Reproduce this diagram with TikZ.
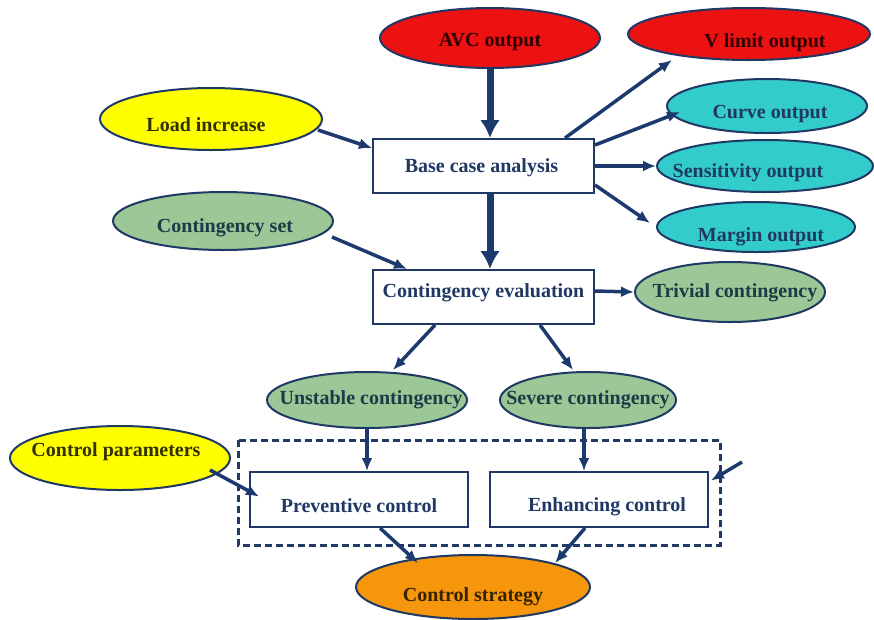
\documentclass[tikz,border=0pt]{standalone}
\usepackage{fontspec}
\setmainfont{Liberation Serif}
\usetikzlibrary{shapes.geometric,arrows.meta}
\definecolor{navy}{RGB}{31,56,100}
\definecolor{arrowblue}{RGB}{28,58,110}
\definecolor{ovalred}{RGB}{236,18,18}
\definecolor{ovalyellow}{RGB}{255,255,0}
\definecolor{ovalcyan}{RGB}{51,204,204}
\definecolor{ovalgreen}{RGB}{155,200,150}
\definecolor{ovalorange}{RGB}{245,150,12}
\definecolor{darkred}{RGB}{50,0,0}
\definecolor{darkolive}{RGB}{50,50,0}
\definecolor{darkteal}{RGB}{25,60,70}
\definecolor{darkbrown}{RGB}{55,35,0}
\begin{document}
\begin{tikzpicture}[x=1pt,y=-1pt,>={Latex[length=13pt,width=11pt]},
    every node/.style={font=\bfseries\fontsize{20}{22}\selectfont},
    oval/.style={ellipse,draw=navy,line width=2pt,inner sep=0pt},
    box/.style={rectangle,draw=navy,line width=2pt,fill=white,inner sep=0pt},
    flow/.style={->,draw=arrowblue,line width=3.5pt},
    mainflow/.style={-{Latex[length=18pt,width=20pt]},draw=arrowblue,line width=7pt}]
		\useasboundingbox (0,0) rectangle (874,619);
		% outputs on top and right
		\node[oval,fill=ovalred,minimum width=220,minimum height=60,label={[text=darkred,shift={(0,4)}]center:AVC output}] (avc) at (490,38) {};
		\node[oval,fill=ovalred,minimum width=242,minimum height=52,label={[text=darkred,shift={(16,9)}]center:V limit output}] (vlimit) at (749,34) {};
		\node[oval,fill=ovalcyan,minimum width=200,minimum height=54,label={[text=navy,shift={(3,8)}]center:Curve output}] (curve) at (767,106) {};
		\node[oval,fill=ovalcyan,minimum width=216,minimum height=52,label={[text=navy,shift={(-17,7)}]center:Sensitivity output}] (sens) at (765,166) {};
		\node[oval,fill=ovalcyan,minimum width=198,minimum height=50,label={[text=navy,shift={(5,10)}]center:Margin output}] (margin) at (756,227) {};
		\node[oval,fill=ovalgreen,minimum width=190,minimum height=60,label={[text=darkteal,shift={(5,1)}]center:Trivial contingency}] (trivial) at (730,292) {};
		% inputs on the left
		\node[oval,fill=ovalyellow,minimum width=222,minimum height=62,label={[text=darkolive,shift={(-5,6)}]center:Load increase}] (load) at (211,119) {};
		\node[oval,fill=ovalgreen,minimum width=220,minimum height=58,label={[text=darkteal,shift={(2,7)}]center:Contingency set}] (contset) at (223,221) {};
		\node[oval,fill=ovalyellow,minimum width=220,minimum height=64,label={[text=darkolive,shift={(-4,-6)}]center:Control parameters}] (ctrlpar) at (120,458) {};
		% main chain
		\node[box,minimum width=221,minimum height=54,label={[text=navy,shift={(-2,2)}]center:Base case analysis}] (base) at (483.5,166) {};
		\node[box,minimum width=221,minimum height=54,label={[text=navy,shift={(0,-4)}]center:Contingency evaluation}] (conteval) at (483.5,297) {};
		\node[oval,fill=ovalgreen,minimum width=200,minimum height=56,label={[text=darkteal,shift={(4,0)}]center:Unstable contingency}] (unstable) at (367,400) {};
		\node[oval,fill=ovalgreen,minimum width=176,minimum height=56,label={[text=darkteal]center:Severe contingency}] (severe) at (588,400) {};
		\draw[navy,line width=3pt,dash pattern=on 7pt off 4pt] (238,440) rectangle (720,545);
		\node[box,minimum width=218,minimum height=55,label={[text=navy,shift={(0,6)}]center:Preventive control}] (prev) at (359,499.5) {};
		\node[box,minimum width=218,minimum height=55,label={[text=navy,shift={(8,7)}]center:Enhancing control}] (enh) at (599,499.5) {};
		\node[oval,fill=ovalorange,minimum width=234,minimum height=64,label={[text=darkbrown,shift={(0,10)}]center:Control strategy}] (strategy) at (473,587) {};
		\coordinate (enhin) at (742,462);
		% connectors
		\draw[mainflow] (avc.south) -- (avc.south |- base.north);
		\draw[mainflow] (avc.south |- base.south) -- (avc.south |- conteval.north);
		\draw[flow] ([shift={(81.5,0)}]base.north) -- ([shift={(-77,26)}]vlimit.center);
		\draw[flow] ([shift={(0,7)}]base.north east) -- ([shift={(-87,6)}]curve.center);
		\draw[flow] (base.east) -- (sens.west);
		\draw[flow] ([shift={(0,19)}]base.east) -- ([shift={(-6,-4)}]margin.west);
		\draw[flow] ([shift={(107,11)}]load.center) -- ([shift={(0,-18)}]base.west);
		\draw[flow] ([shift={(109,16)}]contset.center) -- ([shift={(35,0)}]conteval.north west);
		\draw[flow] ([shift={(0,-6)}]conteval.east) -- (trivial.west);
		\draw[flow] ([shift={(-48.5,0)}]conteval.south) -- ([shift={(26,-30)}]unstable.center);
		\draw[flow] ([shift={(56.5,0)}]conteval.south) -- ([shift={(-15,-30)}]severe.center);
		\draw[flow] (unstable.south) -- (unstable.south |- prev.north);
		\draw[flow] ([shift={(-4,0)}]severe.south) -- ([shift={(-4,0)}]severe.south |- enh.north);
		\draw[flow] ([shift={(90,12)}]ctrlpar.center) -- ([shift={(10,-3)}]prev.west);
		\draw[flow] (enhin) -- ([shift={(2,-19)}]enh.east);
		\draw[flow] ([shift={(21,0)}]prev.south) -- ([shift={(-55,-24)}]strategy.center);
		\draw[flow] ([shift={(-14,0)}]enh.south) -- ([shift={(82,-24)}]strategy.center);
\end{tikzpicture}
\end{document}
